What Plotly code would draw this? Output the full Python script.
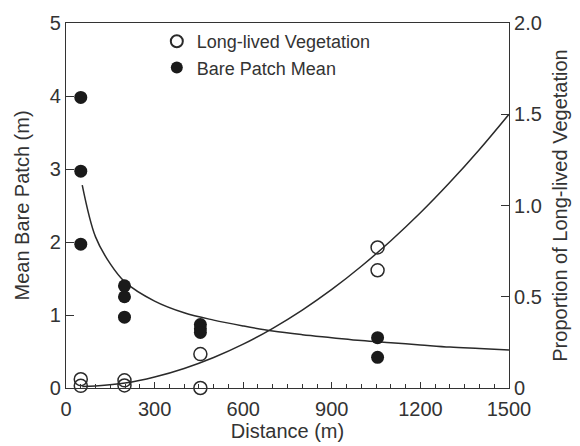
import plotly.graph_objects as go

# Bare patch mean (left axis, m)
bare_x = [50, 50, 50, 198, 198, 198, 455, 455, 455, 1055, 1055]
bare_y = [3.98, 2.97, 1.97, 1.40, 1.25, 0.97, 0.87, 0.81, 0.76, 0.69, 0.42]

# Long-lived vegetation proportion (right axis)
veg_x = [50, 50, 198, 198, 455, 455, 1055, 1055]
veg_y = [0.048, 0.012, 0.042, 0.014, 0.186, 0.0, 0.77, 0.645]

# Fitted curves
bare_fit_x = [55, 100, 150, 200, 300, 400, 500, 600, 700, 800, 900, 1000, 1100, 1200, 1300, 1400, 1500]
bare_fit_y = [2.78, 2.07, 1.70, 1.45, 1.19, 1.03, 0.93, 0.85, 0.78, 0.73, 0.69, 0.65, 0.62, 0.59, 0.56, 0.54, 0.52]
veg_fit_x = [55, 100, 200, 300, 400, 500, 600, 700, 800, 900, 1000, 1100, 1200, 1300, 1400, 1500]
veg_fit_y = [0.008, 0.011, 0.027, 0.06, 0.107, 0.167, 0.24, 0.327, 0.427, 0.54, 0.667, 0.807, 0.96, 1.127, 1.307, 1.5]

x_ticks = [0, 300, 600, 900, 1200, 1500]
y_ticks = [0, 1, 2, 3, 4, 5]
y2_ticks = [0, 0.5, 1.0, 1.5, 2.0]
y2_labels = ["0", "0.5", "1.0", "1.5", "2.0"]

FONT = "Liberation Sans, Arial, sans-serif"
INK = "#2a2a2a"

fig = go.Figure()
fig.add_trace(go.Scatter(x=bare_fit_x, y=bare_fit_y, mode="lines", line=dict(color=INK, width=1.5, shape="spline"),
                         showlegend=False, hoverinfo="skip"))
fig.add_trace(go.Scatter(x=veg_fit_x, y=veg_fit_y, mode="lines", yaxis="y2",
                         line=dict(color=INK, width=1.5, shape="spline"), showlegend=False, hoverinfo="skip"))
fig.add_trace(go.Scatter(x=veg_x, y=veg_y, mode="markers", yaxis="y2", name="Long-lived Vegetation",
                         marker=dict(symbol="circle-open", size=13, color=INK, line=dict(width=1.5, color=INK)),
                         cliponaxis=False))
fig.add_trace(go.Scatter(x=bare_x, y=bare_y, mode="markers", name="Bare Patch Mean",
                         marker=dict(symbol="circle", size=13, color="#1a1a1a"), cliponaxis=False))

fig.update_layout(
    width=580, height=446,
    margin=dict(l=66, r=68, t=18, b=58),
    paper_bgcolor="white", plot_bgcolor="white",
    font=dict(family=FONT, size=20, color="#333"),
    showlegend=True,
    legend=dict(x=0.205, y=1.0, xanchor="left", yanchor="top", bgcolor="rgba(0,0,0,0)",
                font=dict(size=18, color="#333"), itemsizing="constant", tracegroupgap=0),
    xaxis=dict(range=[0, 1500], tickvals=x_ticks, ticks="inside", ticklen=6, tickcolor="#333",
               ticklabelstandoff=3,
               showline=True, linecolor="#333", linewidth=1.2, mirror=True, showgrid=False, zeroline=False,
               minor=dict(dtick=50, ticks="inside", ticklen=4, tickcolor="#333"),
               title=dict(text="Distance (m)", font=dict(size=20), standoff=0)),
    yaxis=dict(range=[0, 5], tickvals=y_ticks, ticks="inside", ticklen=8, tickcolor="#333",
               showline=True, linecolor="#333", linewidth=1.2, showgrid=False, zeroline=False,
               title=dict(text="Mean Bare Patch (m)", font=dict(size=20), standoff=14)),
    yaxis2=dict(range=[0, 2], overlaying="y", side="right", tickvals=y2_ticks, ticktext=y2_labels,
                ticks="inside", ticklen=8, tickcolor="#333",
                showline=True, linecolor="#333", linewidth=1.2, showgrid=False, zeroline=False,
                title=dict(text="Proportion of Long-lived Vegetation", font=dict(size=20), standoff=12)),
)

fig.write_html("out.html")
